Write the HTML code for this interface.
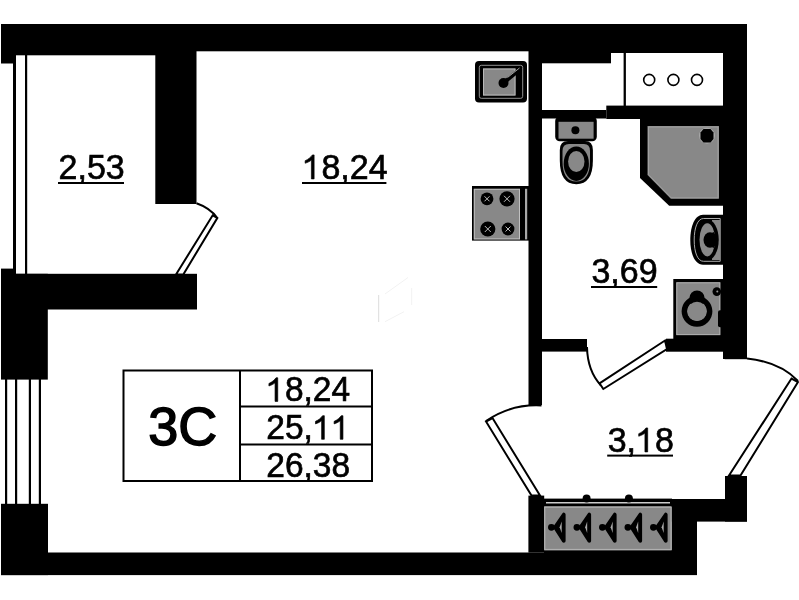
<!DOCTYPE html>
<html><head><meta charset="utf-8">
<style>
html,body{margin:0;padding:0;background:#fff;width:799px;height:600px;overflow:hidden}
svg{display:block;will-change:transform}
text{font-family:"Liberation Sans",sans-serif;fill:#000}
</style></head>
<body>
<svg width="799" height="600" viewBox="0 0 799 600">
<g id="walls" fill="#000">
  <!-- top wall -->
  <rect x="1" y="24" width="746" height="27.3"/>
  <rect x="611" y="24" width="136" height="29"/>
  <rect x="1" y="24" width="155" height="31.3"/>
  <rect x="1" y="24" width="12" height="39.5"/>
  <rect x="541.8" y="24" width="69.2" height="39.3"/>
  <!-- right wall -->
  <rect x="723" y="24" width="24" height="335"/>
  <!-- interior vertical wall -->
  <rect x="528.5" y="24" width="13.5" height="381"/>
  <!-- bathroom top wall -->
  <rect x="542" y="110" width="64.3" height="8.5"/>
  <rect x="606.3" y="105.6" width="140.7" height="13.4"/>
  <!-- niche line -->
  <rect x="623.6" y="51" width="2.3" height="55"/>
  <!-- left room partition stub -->
  <rect x="155.3" y="24" width="41.2" height="180"/>
  <!-- mid horizontal wall -->
  <rect x="1" y="273.8" width="196" height="35.7"/>
  <rect x="1" y="268.6" width="12" height="10"/>
  <rect x="1" y="273.8" width="46.8" height="105.8"/>
  <!-- bottom left block -->
  <rect x="1" y="503.8" width="47" height="71.3"/>
  <!-- bottom wall -->
  <rect x="1" y="552.5" width="696" height="22.6"/>
  <rect x="544" y="550.2" width="130" height="3"/>
  <!-- balcony left block -->
  <rect x="528.4" y="495.6" width="15.8" height="57"/>
  <!-- shelf top strip -->
  <rect x="544" y="498.6" width="128" height="8"/>
  <!-- right of shelf -->
  <rect x="671.6" y="499" width="25.4" height="76"/>
  <rect x="671.6" y="499" width="75.4" height="22.6"/>
  <rect x="725" y="476" width="22" height="45.6"/>
  <!-- bathroom bottom wall stub -->
  <rect x="541.8" y="339" width="45.2" height="12.6"/>
  <rect x="666" y="338.7" width="81" height="13"/>
  <rect x="724.6" y="338.7" width="22.4" height="20.5"/>
</g>
<!-- shelf white line -->
<rect x="546" y="502.2" width="124" height="1.2" fill="#fff"/>

<!-- left windows -->
<g fill="#000">
  <rect x="13" y="55" width="3" height="219"/>
  <rect x="25" y="55" width="2.2" height="219"/>
  <rect x="5" y="379" width="2.2" height="125"/>
  <rect x="15" y="379" width="2.2" height="125"/>
  <rect x="28.8" y="379" width="2.2" height="125"/>
  <rect x="38.8" y="379" width="2.2" height="125"/>
</g>

<!-- doors -->
<g fill="none" stroke="#000" stroke-width="2">
  <path d="M196.5 203.3 Q210 208 217.3 218"/>
  <polygon points="176,274.5 212.7,215.3 217.3,218 183.3,274.5" fill="#fff"/>
  <path d="M587 347 Q587.5 371 601 385.5"/>
  <polygon points="599.5,383.3 665,340.5 667,349 603.3,389" fill="#fff"/>
  <path d="M541.5 405.5 A89.5 89.5 0 0 0 486 421"/>
  <polygon points="486,421.5 492.5,418 540,495.6 531.5,495.6" fill="#fff"/>
  <path d="M747 358.5 Q780 362 798 381"/>
  <polygon points="729,475.5 791.5,378.5 798,382 740.5,475.5" fill="#fff"/>
</g>


<!-- fixtures -->
<g id="fixtures">
  <!-- kitchen sink -->
  <rect x="475" y="61" width="52" height="41.5" rx="4" fill="#000"/>
  <rect x="479.3" y="65.3" width="43.4" height="33" rx="2" fill="none" stroke="#a0a0a0" stroke-width="0.9"/>
  <rect x="483" y="68.5" width="32.5" height="27" fill="#888888"/>
  <rect x="483.5" y="69" width="31.5" height="26" fill="none" stroke="#b8b8b8" stroke-width="1"/>
  <line x1="503.5" y1="83" x2="521" y2="68.5" stroke="#000" stroke-width="4"/>
  <circle cx="503.5" cy="83" r="5" fill="#000"/>
  <line x1="507.5" y1="77.5" x2="519.5" y2="68" stroke="#c8c8c8" stroke-width="0.8"/>
  <!-- stove -->
  <rect x="472" y="186" width="57" height="54.6" fill="#000"/>
  <rect x="473.8" y="188.8" width="46.2" height="50.6" fill="#888888"/>
  <rect x="474.3" y="189.3" width="45.2" height="49.6" fill="none" stroke="#c0c0c0" stroke-width="1"/>
  <rect x="525" y="188.8" width="2.2" height="50.6" fill="#a8a8a8"/>
  <g fill="#000">
    <circle cx="487" cy="198.8" r="6.4"/>
    <circle cx="507" cy="198.8" r="7.6"/>
    <circle cx="487.8" cy="229" r="7.6"/>
    <circle cx="508" cy="229" r="6.4"/>
  </g>
  <g stroke="#d0d0d0" stroke-width="0.9">
    <path d="M484.5 196.3l5 5M489.5 196.3l-5 5"/>
    <path d="M504 195.8l6 6M510 195.8l-6 6"/>
    <path d="M484.8 226l6 6M490.8 226l-6 6"/>
    <path d="M505.5 226.5l5 5M510.5 226.5l-5 5"/>
  </g>

  <!-- toilet -->
  <rect x="555.2" y="116.5" width="41.6" height="24.8" rx="4.5" fill="#000"/>
  <rect x="558.5" y="121.8" width="35.1" height="16.9" fill="#888888"/>
  <circle cx="575.4" cy="130.2" r="4" fill="#000"/>
  <path d="M559.8 150 Q559.8 141 568 141 L585 141 Q592.9 141 592.9 150 L592.9 160 Q592.9 184.2 576.3 184.2 Q559.8 184.2 559.8 160 Z" fill="#000"/>
  <path d="M562.5 151 Q562.5 144 569 144 L584 144 Q590 144 590 151 L590 161 Q590 181.5 576.3 181.5 Q562.5 181.5 562.5 161 Z" fill="#888888"/>
  <ellipse cx="576.3" cy="163.7" rx="12.6" ry="17.2" fill="#000"/>
  <ellipse cx="576.3" cy="161.5" rx="8.2" ry="10.5" fill="#888888"/>

  <!-- shower -->
  <polygon points="640,118 747,118 747,205.8 669.2,205.8 640,178" fill="#000"/>
  <polygon points="647.5,126 719,126 719,198.8 670.8,198.8 647.5,175" fill="#888888"/>
  <polygon points="648.5,127 718,127 718,197.8 671.2,197.8 648.5,174.6" fill="none" stroke="#a0a0a0" stroke-width="1"/>
  <circle cx="707" cy="135.7" r="8" fill="#a8a8a8"/>
  <polygon points="703.5,129 710.5,129 713.5,132.5 713.5,139 710.5,142.5 703.5,142.5 700.5,139 700.5,132.5" fill="#000"/>

  <!-- bathroom sink -->
  <path d="M723 214.8 H703 C695 214.8 690.3 226 690.3 240 C690.3 254 695 264.8 703 264.8 H723 Z" fill="#000"/>
  <path d="M720.2 218.5 H703.5 C697.5 218.5 694.2 228 694.2 240 C694.2 252 697.5 261.3 703.5 261.3 H720.2 Z" fill="none" stroke="#bdbdbd" stroke-width="0.9"/>
  <rect x="712" y="220" width="8" height="40" fill="#888888"/>
  <ellipse cx="707.5" cy="239.8" rx="11.2" ry="20.3" fill="#000"/>
  <ellipse cx="707.3" cy="239.8" rx="7.8" ry="16.6" fill="#888888"/>
  <ellipse cx="710" cy="240" rx="6.5" ry="7.8" fill="#000"/>
  <path d="M712 233 L716 240 L712 247" fill="none" stroke="#000" stroke-width="4"/>

  <!-- washer -->
  <rect x="673.3" y="279" width="51" height="60" fill="#000"/>
  <rect x="676.3" y="282.3" width="44" height="52.8" fill="#888888"/>
  <rect x="676.8" y="282.8" width="43" height="51.8" fill="none" stroke="#b0b0b0" stroke-width="1"/>
  <ellipse cx="697" cy="298.5" rx="7.7" ry="8" fill="#000"/>
  <circle cx="697" cy="311.3" r="12.6" fill="none" stroke="#000" stroke-width="5.6"/>
  <circle cx="697" cy="311.3" r="9.6" fill="#888888"/>
  <circle cx="716.8" cy="291.6" r="4.3" fill="#000"/>
  <circle cx="717.3" cy="291.6" r="1" fill="#999"/>
  <rect x="718" y="310.3" width="6" height="17" rx="2" fill="#000"/>

  <!-- wardrobe -->
  <rect x="544.2" y="506.6" width="127.4" height="43.6" fill="#888888"/>
  <rect x="544.8" y="507.2" width="126.2" height="42.2" fill="none" stroke="#b5b5b5" stroke-width="1"/>
  <circle cx="586.6" cy="498.6" r="4" fill="#000"/>
  <circle cx="628.9" cy="498.6" r="4" fill="#000"/>
  <g id="hangers" fill="#000" stroke="#000" stroke-width="3.6" stroke-linejoin="round">
    <g><polygon points="555,527.3 563.8,514.5 563.8,541"/><circle cx="551.4" cy="527.3" r="1.6"/><polygon points="559.6,527.3 561.7,521.5 561.7,533" fill="#a8a8a8" stroke="none"/></g>
    <g transform="translate(25.5 0)"><polygon points="555,527.3 563.8,514.5 563.8,541"/><circle cx="551.4" cy="527.3" r="1.6"/><polygon points="559.6,527.3 561.7,521.5 561.7,533" fill="#a8a8a8" stroke="none"/></g>
    <g transform="translate(51 0)"><polygon points="555,527.3 563.8,514.5 563.8,541"/><circle cx="551.4" cy="527.3" r="1.6"/><polygon points="559.6,527.3 561.7,521.5 561.7,533" fill="#a8a8a8" stroke="none"/></g>
    <g transform="translate(76.5 0)"><polygon points="555,527.3 563.8,514.5 563.8,541"/><circle cx="551.4" cy="527.3" r="1.6"/><polygon points="559.6,527.3 561.7,521.5 561.7,533" fill="#a8a8a8" stroke="none"/></g>
    <g transform="translate(102 0)"><polygon points="555,527.3 563.8,514.5 563.8,541"/><circle cx="551.4" cy="527.3" r="1.6"/><polygon points="559.6,527.3 561.7,521.5 561.7,533" fill="#a8a8a8" stroke="none"/></g>
  </g>
  <!-- ooo -->
  <g fill="none" stroke="#000" stroke-width="1.6">
    <circle cx="649.2" cy="79.9" r="5.5"/>
    <circle cx="673.4" cy="79.9" r="5.5"/>
    <circle cx="697" cy="79.9" r="5.5"/>
  </g>
</g>

<!-- faint mark -->
<g fill="none" stroke-width="1">
  <line x1="378.7" y1="295" x2="378.7" y2="322" stroke="#dcdcdc"/>
  <path d="M385 294 L408 277.5 M411.7 288 V305 M404 311.7 L385 321.7" stroke="#f2f2f2"/>
</g>
<!-- info box -->
<g fill="none" stroke="#000" stroke-width="2">
  <rect x="123.5" y="370.5" width="248.5" height="110.5"/>
  <line x1="240" y1="370.5" x2="240" y2="481"/>
  <line x1="240" y1="406.5" x2="372" y2="406.5"/>
  <line x1="240" y1="444.5" x2="372" y2="444.5"/>
</g>
<!--TEXT-->
<g transform="translate(148.3 444.5) scale(1 1.01)">
<text x="0" y="0" font-size="54" stroke="#000" stroke-width="1.5">3C</text>
</g>
<g transform="translate(266.3 401.4) scale(1 1.025)">
<text x="0" y="0" font-size="33.5" stroke="#000" stroke-width="0.65"> 8,24</text>
<path d="M700 0L535 0L535 1105C450 1035 310 965 160 920L160 1070C340 1145 505 1280 595 1409L700 1409Z" transform="translate(0.000 0) scale(0.016357 -0.016357)" stroke="#000" stroke-width="39.74"/>
</g>
<g transform="translate(266.3 439.3) scale(1 1.025)">
<text x="0" y="0" font-size="33.5" stroke="#000" stroke-width="0.65">25,  </text>
<path d="M700 0L535 0L535 1105C450 1035 310 965 160 920L160 1070C340 1145 505 1280 595 1409L700 1409Z" transform="translate(46.570 0) scale(0.016357 -0.016357)" stroke="#000" stroke-width="39.74"/>
<path d="M700 0L535 0L535 1105C450 1035 310 965 160 920L160 1070C340 1145 505 1280 595 1409L700 1409Z" transform="translate(65.201 0) scale(0.016357 -0.016357)" stroke="#000" stroke-width="39.74"/>
</g>
<g transform="translate(266.3 477.3) scale(1 1.025)">
<text x="0" y="0" font-size="33.5" stroke="#000" stroke-width="0.65">26,38</text>
</g>
<!-- room labels -->
<g transform="translate(58.6 178.9) scale(1 1.025)">
<text x="0" y="0" font-size="34" stroke="#000" stroke-width="0.65">2,53</text>
</g>
<rect x="58" y="182" width="66" height="2" fill="#000"/>
<g transform="translate(302.5 178.9) scale(1 1.025)">
<text x="0" y="0" font-size="34" stroke="#000" stroke-width="0.65"> 8,24</text>
<path d="M700 0L535 0L535 1105C450 1035 310 965 160 920L160 1070C340 1145 505 1280 595 1409L700 1409Z" transform="translate(0.000 0) scale(0.016602 -0.016602)" stroke="#000" stroke-width="39.15"/>
</g>
<rect x="302" y="182" width="84.4" height="2" fill="#000"/>
<g transform="translate(591.4 283.3) scale(1 1.025)">
<text x="0" y="0" font-size="34" stroke="#000" stroke-width="0.65">3,69</text>
</g>
<rect x="591" y="286" width="66.2" height="2" fill="#000"/>
<g transform="translate(607.7 451.9) scale(1 1.025)">
<text x="0" y="0" font-size="34" stroke="#000" stroke-width="0.65">3, 8</text>
<path d="M700 0L535 0L535 1105C450 1035 310 965 160 920L160 1070C340 1145 505 1280 595 1409L700 1409Z" transform="translate(28.355 0) scale(0.016602 -0.016602)" stroke="#000" stroke-width="39.15"/>
</g>
<rect x="607.2" y="454.6" width="65.8" height="2" fill="#000"/>
<!--/TEXT-->

</svg>
</body></html>
